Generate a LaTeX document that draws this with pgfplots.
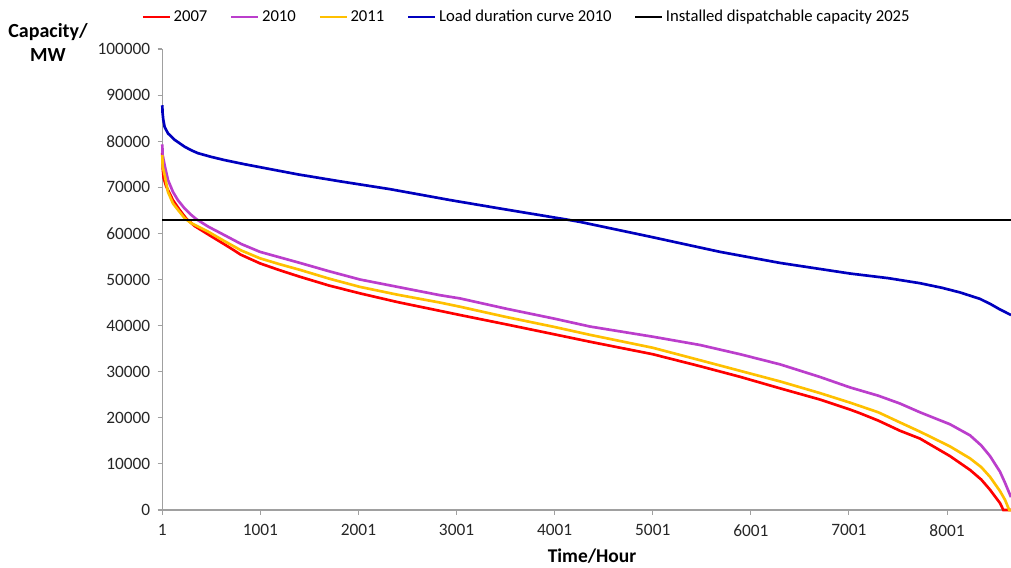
\documentclass[border=0pt]{standalone}
\usepackage{fontspec}
\setmainfont{Carlito}
\usepackage{pgfplots}
\pgfplotsset{compat=1.18}
\definecolor{cred}{RGB}{255,0,0}
\definecolor{cpurple}{RGB}{187,62,204}
\definecolor{cyellow}{RGB}{255,192,0}
\definecolor{cblue}{RGB}{0,0,190}
\definecolor{caxis}{RGB}{160,160,160}
\begin{document}
\begin{tikzpicture}
\path[use as bounding box] (-121.7pt,-42.75pt) rectangle (636.5pt,382.5pt);
\begin{axis}[
  at={(0pt,0pt)}, anchor=south west,
  scale only axis, width=636.5pt, height=345.75pt,
  xmin=1, xmax=8653, ymin=0, ymax=100000,
  axis x line*=bottom, axis y line*=left,
  axis line style={caxis, line width=0.9pt, -},
  xtick={1,1001,2001,3001,4001,5001,6001,7001,8001},
  xticklabels={1,1001,2001,3001,4001,5001,6001,7001,8001},
  ytick={0,10000,20000,30000,40000,50000,60000,70000,80000,90000,100000},
  yticklabels={0,10000,20000,30000,40000,50000,60000,70000,80000,90000,100000},
  tick align=outside, major tick length=3.5pt,
  tick style={caxis, line width=0.8pt},
  scaled ticks=false,
  ticklabel style={font=\fontsize{13}{15}\selectfont, text=black!85},
  xticklabel style={yshift=-4pt},
  yticklabel style={xshift=-2pt},
  legend style={at={(0.4297,1.0694)}, anchor=center, draw=none, fill=none,
    font=\fontsize{12.5}{15}\selectfont, legend columns=-1,
    /tikz/every even column/.append style={column sep=15pt},
    inner sep=0pt},
  legend image code/.code={\draw[#1] (0pt,0pt) -- (20pt,0pt);},
  legend cell align=left,
  clip=false,
]
\addplot[cred, line width=2pt] coordinates {
(1,77500)(6,74000)(15,72000)(41,70200)(110,67200)(178,65100)(246,63200)(331,61600)(467,59800)(637,57600)(720,56500)(800,55400)(997,53500)(1200,52000)(1404,50600)(1700,48700)(2016,47000)(2400,45100)(2832,43200)(3036,42300)(3500,40300)(4000,38100)(4361,36500)(5000,33800)(5482,31200)(5890,28900)(6298,26400)(6700,24000)(7011,21800)(7113,21000)(7300,19400)(7521,17200)(7725,15500)(8031,11700)(8235,8700)(8350,6600)(8439,4400)(8541,1500)(8575,0)(8653,0)};
\addlegendentry{2007}
\addplot[cpurple, line width=2pt] coordinates {
(1,79300)(5,77000)(25,74800)(59,71600)(110,69000)(161,67200)(229,65400)(297,64000)(348,63100)(467,61500)(637,59600)(806,57700)(997,56000)(1200,54800)(1404,53600)(1700,51800)(2016,50000)(2400,48400)(2832,46600)(3036,45900)(3500,43700)(4000,41500)(4361,39800)(5000,37600)(5482,35800)(5890,33800)(6298,31600)(6700,28900)(7011,26600)(7300,24800)(7521,23100)(7725,21200)(8031,18600)(8235,16200)(8350,14000)(8439,11700)(8541,8300)(8592,5900)(8653,2800)};
\addlegendentry{2010}
\addplot[cyellow, line width=2pt] coordinates {
(1,77000)(5,74500)(25,72700)(59,69000)(110,66500)(161,65100)(229,63300)(297,62200)(467,60400)(637,58300)(806,56300)(997,54600)(1200,53300)(1404,52100)(1700,50200)(2016,48400)(2400,46700)(2832,45000)(3036,44100)(3500,41900)(4000,39700)(4361,38000)(5000,35200)(5482,32500)(5890,30200)(6298,27900)(6700,25400)(7011,23300)(7300,21200)(7521,19000)(7725,17000)(8031,13800)(8235,11200)(8350,9300)(8439,7200)(8541,4100)(8592,2200)(8635,0)(8653,0)};
\addlegendentry{2011}
\addplot[cblue, line width=2pt] coordinates {
(1,87800)(4,86200)(11,84700)(25,83100)(59,81700)(127,80300)(229,78800)(300,78000)(365,77400)(500,76600)(637,75900)(841,75000)(1112,73900)(1384,72800)(1812,71300)(2322,69600)(2944,67200)(3500,65200)(4126,63000)(4259,62500)(4972,59300)(5686,56000)(6298,53600)(7011,51300)(7400,50300)(7725,49200)(7950,48200)(8133,47200)(8337,45800)(8450,44600)(8541,43500)(8653,42300)};
\addlegendentry{Load duration curve 2010}
\addplot[black, line width=1.6pt] coordinates {(1,63000)(8653,63000)};
\addlegendentry{Installed dispatchable capacity 2025}
\end{axis}
\node[font=\fontsize{15}{18}\selectfont\bfseries, align=center] at (-85.7pt,351pt) {Capacity/\\MW};
\node[font=\fontsize{14.6}{17}\selectfont\bfseries] at (322.3pt,-34.5pt) {Time/Hour};
\end{tikzpicture}
\end{document}
